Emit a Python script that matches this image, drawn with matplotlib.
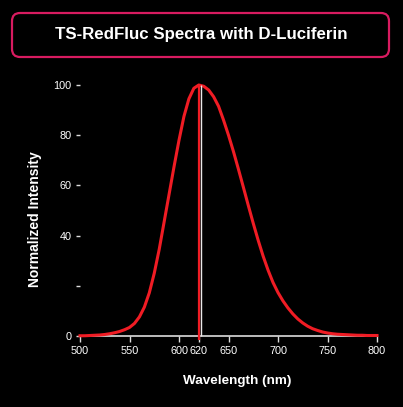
import matplotlib.pyplot as plt
from matplotlib.patches import FancyBboxPatch
import matplotlib.transforms as mtransforms

plt.rcParams['font.family'] = ['Liberation Sans', 'DejaVu Sans']

# spectrum (5 nm steps)
wavelength = list(range(500, 805, 5))
intensity = [0.1, 0.1, 0.2, 0.3, 0.4, 0.6, 0.9, 1.3, 1.8, 2.5,
             3.4, 5.0, 7.6, 11.5, 17.2, 25.0, 34.5, 45.5, 56.5, 67.5,
             78.0, 87.5, 94.5, 98.7, 100.0,
             99.5, 98.0, 95.3, 91.5, 86.0, 80.0, 73.5, 66.5, 59.3, 52.0,
             44.9, 38.1, 31.8, 26.2, 21.3, 17.3, 14.0, 11.2, 8.8, 6.8,
             5.2, 3.9, 2.9, 2.2, 1.6, 1.2, 0.9, 0.7, 0.6, 0.5,
             0.4, 0.3, 0.3, 0.2, 0.2, 0.2]
peak = 620
xticks = [500, 550, 600, 620, 650, 700, 750, 800]
yticks = [0, 20, 40, 60, 80, 100]
ylabels = ['0', '', '40', '60', '80', '100']
title = 'TS-RedFluc Spectra with D-Luciferin'

fig = plt.figure(figsize=(4.03, 4.07), dpi=100, facecolor='black')
ax = fig.add_axes([80/403, 71/407, 297/403, 251/407])
ax.set_facecolor('black')

ax.plot(wavelength, intensity, color='#f01c24', lw=2.2, clip_on=False, zorder=3,
        solid_joinstyle='round')
ax.vlines(peak, -1.5, 100, color='#f01c24', lw=1.6, clip_on=False, zorder=4)
off = mtransforms.offset_copy(ax.transData, fig=fig, x=1.4, y=0, units='points')
ax.vlines(peak, 0, 100, color='#e8e8e8', lw=1.0, transform=off, clip_on=False, zorder=5)

ax.set_xlim(500, 800)
ax.set_ylim(0, 100)
ax.set_xticks(xticks)
ax.set_yticks(yticks)
ax.set_yticklabels(ylabels)
for s in ['top', 'right', 'left']:
    ax.spines[s].set_visible(False)
ax.spines['bottom'].set_color('#dddddd')
ax.spines['bottom'].set_linewidth(1.2)
ax.tick_params(axis='x', colors='#dddddd', labelcolor='white', length=4, width=1, labelsize=7.8, pad=3)
ax.tick_params(axis='y', colors='#dddddd', labelcolor='white', length=3, width=1, labelsize=7.8, pad=3)
ax.set_xlabel('Wavelength (nm)', color='white', fontsize=9.7, fontweight='bold')
ax.set_ylabel('Normalized Intensity', color='white', fontsize=10, fontweight='bold')
ax.xaxis.set_label_coords(0.530, -0.155)
ax.yaxis.set_label_coords(-0.128, 0.466)

box = FancyBboxPatch((12/403, 1 - 57/407), 377/403, 44/407,
                     boxstyle='round,pad=0,rounding_size=0.02',
                     transform=fig.transFigure, facecolor='black',
                     edgecolor='#d81b60', lw=1.6)
fig.patches.append(box)
fig.text(201/403, 1 - 35/407, title, color='white', fontsize=12.2,
         fontweight='bold', ha='center', va='center')

fig.savefig('out.png', dpi=100, facecolor='black')
